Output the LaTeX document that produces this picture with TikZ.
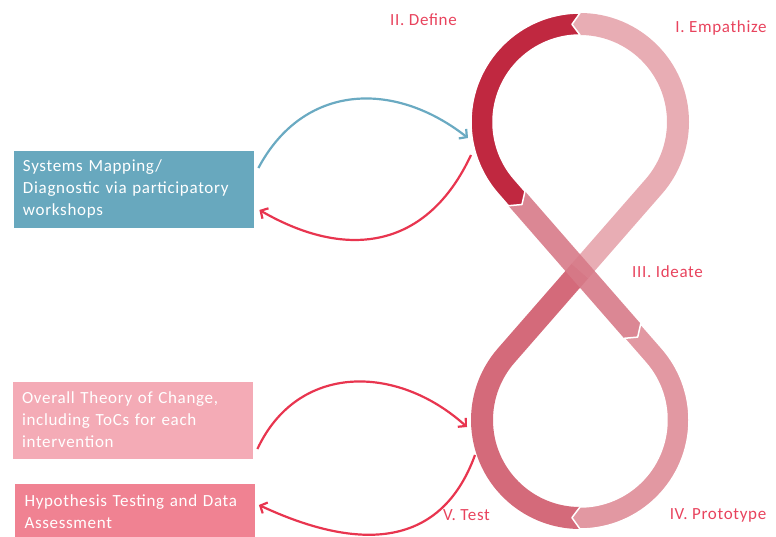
\documentclass[tikz,border=0pt]{standalone}
\usepackage{fontspec}
\setmainfont{Carlito}[LetterSpace=4]
\usetikzlibrary{calc,arrows.meta}
\definecolor{cdef}{HTML}{C02840}
\definecolor{cemp}{HTML}{E8ADB4}
\definecolor{cide}{HTML}{D77A88}
\definecolor{cpro}{HTML}{E298A2}
\definecolor{ctest}{HTML}{D46A7A}
\definecolor{cbox1}{HTML}{68A8BE}
\definecolor{cbox2}{HTML}{F4ABB6}
\definecolor{cbox3}{HTML}{F08292}
\definecolor{clab}{HTML}{E8435D}
\definecolor{carr}{HTML}{E8354F}
\definecolor{cblue}{HTML}{6AAAC2}
\begin{document}
\begin{tikzpicture}[x=1pt,y=1pt,
  boxstyle/.style={rectangle, draw=white, line width=0.8pt, minimum width=241pt, inner xsep=10pt,
    text width=221pt, align=left, text=white, font=\fontsize{17}{22}\selectfont},
  lab/.style={text=clab, font=\fontsize{17}{20}\selectfont, inner sep=0pt},
  band/.style={draw=white, line width=1.5pt, line join=round},
  conn/.style={line width=2.2pt, -{Straight Barb[length=5.5pt,width=12pt]}}]
\useasboundingbox (0,0) rectangle (776,536);
\pgfmathsetmacro\th{asin(0.98/1.49)}
\pgfmathsetmacro\L{100*sqrt(1.49*1.49-0.98*0.98)}
\coordinate (T) at (580,414);
\coordinate (B) at (580,116);
% V. Test
\fill[ctest] ($(B)+(-90:87)$) arc[start angle=-90, end angle={-180-\th}, radius=87]
  -- ($(B)+(180-\th:87)+(90-\th:\L)$) -- ($(B)+(180-\th:109)+(90-\th:\L)$)
  -- ($(B)+(180-\th:109)$) arc[start angle={180-\th}, end angle=270, radius=109]
  -- ($(B)+(265.3:98)$) -- cycle;
% I. Empathize
\fill[cemp] ($(B)+(180-\th:109)+(90-\th:\L)$) -- ($(T)+(-\th:87)$)
  arc[start angle=-\th, end angle=90, radius=87] -- ($(T)+(94.7:98)$)
  -- ($(T)+(90:109)$) arc[start angle=90, end angle=-\th, radius=109]
  -- ($(B)+(180-\th:87)+(90-\th:\L)$) -- cycle;
% III. Ideate
\fill[cide, fill opacity=0.9] ($(T)+(180+\th:109)+(\th-90:16)$) -- ($(T)+(180+\th:109)+(\th-90:192)$)
  -- ($(T)+(180+\th:98)+(\th-90:200)$) -- ($(T)+(180+\th:87)+(\th-90:192)$)
  -- ($(T)+(180+\th:87)+(\th-90:16)$) -- ($(T)+(180+\th:98)+(\th-90:24)$) -- cycle;
% II. Define
\filldraw[band, fill=cdef] ($(T)+(90:109)$) arc[start angle=90, end angle={180+\th}, radius=109]
  -- ($(T)+(180+\th:109)+(\th-90:16)$) -- ($(T)+(180+\th:98)+(\th-90:24)$)
  -- ($(T)+(180+\th:87)+(\th-90:16)$) -- ($(T)+(180+\th:87)$)
  arc[start angle={180+\th}, end angle=90, radius=87] -- ($(T)+(94.7:98)$) -- cycle;
% IV. Prototype
\filldraw[band, fill=cpro] ($(T)+(180+\th:109)+(\th-90:192)$) -- ($(B)+(\th:87)$)
  arc[start angle=\th, end angle=-90, radius=87] -- ($(B)+(-94.7:98)$)
  -- ($(B)+(-90:109)$) arc[start angle=-90, end angle=\th, radius=109]
  -- ($(T)+(180+\th:87)+(\th-90:192)$) -- ($(T)+(180+\th:98)+(\th-90:200)$) -- cycle;
% labels
\node[lab] (lemp) at (721,508) {I. Empathize};
\node[lab] (ldef) at (423.5,516) {II. Define};
\node[lab] (lide) at (667.5,264) {III. Ideate};
\node[lab] (lpro) at (718,21) {IV. Prototype};
\node[lab] (ltest) at (466.5,21) {V. Test};
% boxes
\node[boxstyle, fill=cbox1, minimum height=78pt] (b1) at (133.5,347)
  {Systems Mapping/\\Diagnostic via participatory\\workshops};
\node[boxstyle, fill=cbox2, minimum height=78pt] (b2) at (132.5,116)
  {Overall Theory of Change,\\including ToCs for each\\intervention};
\node[boxstyle, fill=cbox3, minimum height=58pt] (b3) at (135,24)
  {Hypothesis Testing and Data\\Assessment};
% connector ends at the loop
\coordinate (defIn) at (468,398);
\coordinate (defOut) at (471,381);
\coordinate (testIn) at (467,109);
\coordinate (testOut) at (475,81);
% connectors
\draw[conn, cblue] ([xshift=4pt,yshift=21pt]b1.east) to[out=62, in=142, looseness=1.15] (defIn);
\draw[conn, carr] (defOut) to[out=-115, in=-30, looseness=1.2] ([xshift=5pt,yshift=-21pt]b1.east);
\draw[conn, carr] ([xshift=4pt,yshift=-29pt]b2.east) to[out=65, in=138, looseness=1.15] (testIn);
\draw[conn, carr] (testOut) to[out=-110, in=-25, looseness=1.2] ([xshift=3pt,yshift=7pt]b3.east);
\end{tikzpicture}
\end{document}
